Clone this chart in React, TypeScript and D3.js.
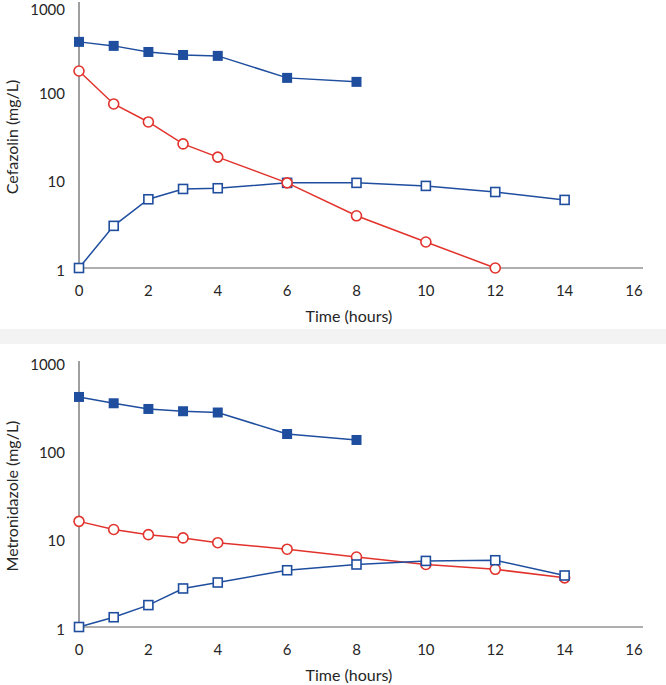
import React from "react";
import * as d3 from "d3";

const xTicks = [0, 2, 4, 6, 8, 10, 12, 14, 16];
const yTicks = [1, 10, 100, 1000];

// Cefazolin
const cefFilledX = [0, 1, 2, 3, 4, 6, 8];
const cefFilled = [363, 327, 279, 258, 252, 142, 128];
const cefCircleX = [0, 1, 2, 3, 4, 6, 8, 10, 12];
const cefCircle = [170, 72, 45, 25.4, 18, 9.2, 3.9, 1.97, 1.0];
const cefOpenX = [0, 1, 2, 3, 4, 6, 8, 10, 12, 14];
const cefOpen = [1.0, 3.0, 6.0, 7.85, 8.0, 9.2, 9.2, 8.5, 7.25, 5.9];

// Metronidazole
const metFilledX = [0, 1, 2, 3, 4, 6, 8];
const metFilled = [402, 341, 294, 277, 268, 153, 131];
const metCircleX = [0, 1, 2, 3, 4, 6, 8, 10, 12, 14];
const metCircle = [15.7, 12.7, 11.1, 10.2, 9.0, 7.6, 6.2, 5.1, 4.5, 3.6];
const metOpenX = [0, 1, 2, 3, 4, 6, 8, 10, 12, 14];
const metOpen = [1.0, 1.29, 1.77, 2.73, 3.19, 4.39, 5.1, 5.6, 5.7, 3.83];

const BLUE = "#1f4e9f";
const RED = "#e2322c";
const AXIS = "#5f5f5f";
const TEXT = "#262626";
const FONT = "Lato, 'Open Sans', sans-serif";

type Series = { xs: number[]; ys: number[] };

function Panel(props: {
  top: number;
  yTitle: string;
  filled: Series;
  circle: Series;
  open: Series;
  circleOnTop: boolean;
}) {
  const { top, yTitle, filled, circle, open, circleOnTop } = props;
  const x = d3.scaleLinear().domain([0, 16]).range([79, 634]);
  const y = d3.scaleLog().domain([1, 1000]).range([top + 265, top]);
  const line = d3
    .line<[number, number]>()
    .x((d) => x(d[0]))
    .y((d) => y(d[1]));
  const pts = (s: Series) => s.xs.map((t, i) => [t, s.ys[i]] as [number, number]);
  const sq = 10;

  const circles = (
    <g key="c">
      <path d={line(pts(circle)) || ""} fill="none" stroke={RED} strokeWidth={1.5} />
      {pts(circle).map((p, i) => (
        <circle key={i} cx={x(p[0])} cy={y(p[1])} r={5} fill="#fff" stroke={RED} strokeWidth={1.6} />
      ))}
    </g>
  );
  const opens = (
    <g key="o">
      <path d={line(pts(open)) || ""} fill="none" stroke={BLUE} strokeWidth={1.5} />
      {pts(open).map((p, i) => (
        <rect key={i} x={x(p[0]) - 4.5} y={y(p[1]) - 4.5} width={9} height={9} fill="#fff" stroke={BLUE} strokeWidth={1.6} />
      ))}
    </g>
  );

  const axisY = y(1);
  return (
    <g>
      <line x1={x(0)} x2={x(0)} y1={top - 1} y2={axisY} stroke={AXIS} strokeWidth={1.2} />
      <line x1={x(0)} x2={643} y1={axisY} y2={axisY} stroke={AXIS} strokeWidth={1.2} />
      {yTicks.map((t) => (
        <text key={t} x={65} y={Math.max(y(t) + 4, 11)} textAnchor="end" fontSize={15} fill={TEXT} fontFamily={FONT} dominantBaseline="middle">
          {d3.format("d")(t)}
        </text>
      ))}
      {xTicks.map((t) => (
        <text key={t} x={x(t)} y={axisY + 24} textAnchor="middle" fontSize={15} fill={TEXT} fontFamily={FONT} dominantBaseline="middle">
          {t}
        </text>
      ))}
      <text x={349} y={axisY + 50} textAnchor="middle" fontSize={16} fill={TEXT} fontFamily={FONT} dominantBaseline="middle">
        Time (hours)
      </text>
      <text
        transform={`translate(14,${top + 134}) rotate(-90)`}
        textAnchor="middle"
        fontSize={16}
        fill={TEXT}
        fontFamily={FONT}
        dominantBaseline="middle"
      >
        {yTitle}
      </text>
      <path d={line(pts(filled)) || ""} fill="none" stroke={BLUE} strokeWidth={1.5} />
      {pts(filled).map((p, i) => (
        <rect key={i} x={x(p[0]) - sq / 2} y={y(p[1]) - sq / 2} width={sq} height={sq} fill={BLUE} />
      ))}
      {circleOnTop ? [opens, circles] : [circles, opens]}
    </g>
  );
}

export default function App() {
  return (
    <svg width={666} height={685} style={{ position: "absolute", left: 0, top: 0, background: "#fff" }}>
      <rect x={0} y={329} width={666} height={15} fill="#f3f3f3" />
      <Panel
        top={3}
        yTitle="Cefazolin (mg/L)"
        filled={{ xs: cefFilledX, ys: cefFilled }}
        circle={{ xs: cefCircleX, ys: cefCircle }}
        open={{ xs: cefOpenX, ys: cefOpen }}
        circleOnTop={true}
      />
      <Panel
        top={362}
        yTitle="Metronidazole (mg/L)"
        filled={{ xs: metFilledX, ys: metFilled }}
        circle={{ xs: metCircleX, ys: metCircle }}
        open={{ xs: metOpenX, ys: metOpen }}
        circleOnTop={false}
      />
    </svg>
  );
}
